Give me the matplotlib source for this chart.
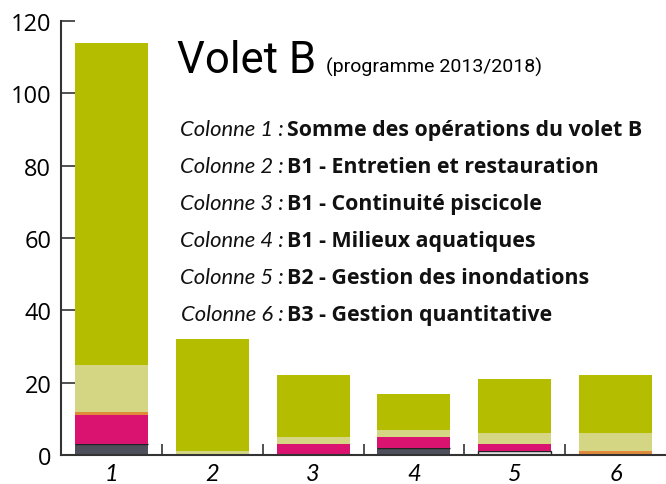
import matplotlib
matplotlib.use("Agg")
import matplotlib.pyplot as plt
import numpy as np

categories = ["1", "2", "3", "4", "5", "6"]
dark = [3, 0, 0, 2, 0, 0]
white = [0, 0, 0, 0, 1, 0]
magenta = [8, 0, 3, 3, 2, 0]
orange = [1, 0, 0, 0, 0, 1]
light = [13, 1, 2, 2, 3, 5]
olive = [89, 31, 17, 10, 15, 16]
yticks = [0, 20, 40, 60, 80, 100, 120]

legend_left = ["Colonne 1 :", "Colonne 2 :", "Colonne 3 :", "Colonne 4 :", "Colonne 5 :", "Colonne 6 :"]
legend_right = ["Somme des opérations du volet B", "B1 - Entretien et restauration",
                "B1 - Continuité piscicole", "B1 - Milieux aquatiques",
                "B2 - Gestion des inondations", "B3 - Gestion quantitative"]

W, H = 666, 485
fig = plt.figure(figsize=(W / 100, H / 100), dpi=100)
ax = fig.add_axes([61 / W, 1 - 456 / H, 1 - 61 / W, (456 - 22) / H])

x = np.arange(len(categories))
series = [
    (dark, "#4d4f5a", "none"),
    (white, "#e6e6e6", "#222222"),
    (magenta, "#d9136f", "none"),
    (orange, "#e08a3c", "none"),
    (light, "#d5d683", "none"),
    (olive, "#b5bd00", "none"),
]
bottom = np.zeros(len(categories))
for vals, col, ec in series:
    v = np.array(vals, dtype=float)
    ax.bar(x, v, width=0.725, bottom=bottom, color=col,
           edgecolor=ec, linewidth=1.0 if ec != "none" else 0, zorder=2)
    bottom += v

ax.set_xlim(-0.5, 5.5)
ax.set_ylim(0, 120)
ax.set_yticks(yticks)
ax.set_yticklabels([str(t) for t in yticks], fontsize=17, family="Open Sans")
ax.set_xticks(x)
ax.set_xticklabels(categories, fontsize=17, style="italic", family="Lato")
ax.set_xticks(np.arange(0.5, 5.0, 1.0), minor=True)
ax.tick_params(axis="x", which="major", length=0, pad=6)
ax.tick_params(axis="x", which="minor", direction="in", length=8, width=1.2, color="#333333")
ax.tick_params(axis="y", direction="in", length=10, width=1.2, color="#333333", pad=7)
for s in ["top", "right"]:
    ax.spines[s].set_visible(False)
for s in ["left", "bottom"]:
    ax.spines[s].set_color("#333333")
    ax.spines[s].set_linewidth(1.5)
    ax.spines[s].set_zorder(3)

fig.text(177 / W, 1 - 73 / H, "Volet B", fontsize=31.5, family="Roboto",
         ha="left", va="baseline")
fig.text(326 / W, 1 - 73 / H, "(programme 2013/2018)", fontsize=14,
         family="Roboto", ha="left", va="baseline")

base0 = 136
step = 37
for i, (l, r) in enumerate(zip(legend_left, legend_right)):
    yb = 1 - (base0 + i * step) / H
    fig.text(284 / W, yb, l, fontsize=15.8, style="italic", family="Lato",
             ha="right", va="baseline", color="#111111")
    fig.text(287 / W, yb, r, fontsize=15.4, weight="bold", family="Open Sans",
             ha="left", va="baseline", color="#111111")

fig.savefig("out.png", dpi=100)
